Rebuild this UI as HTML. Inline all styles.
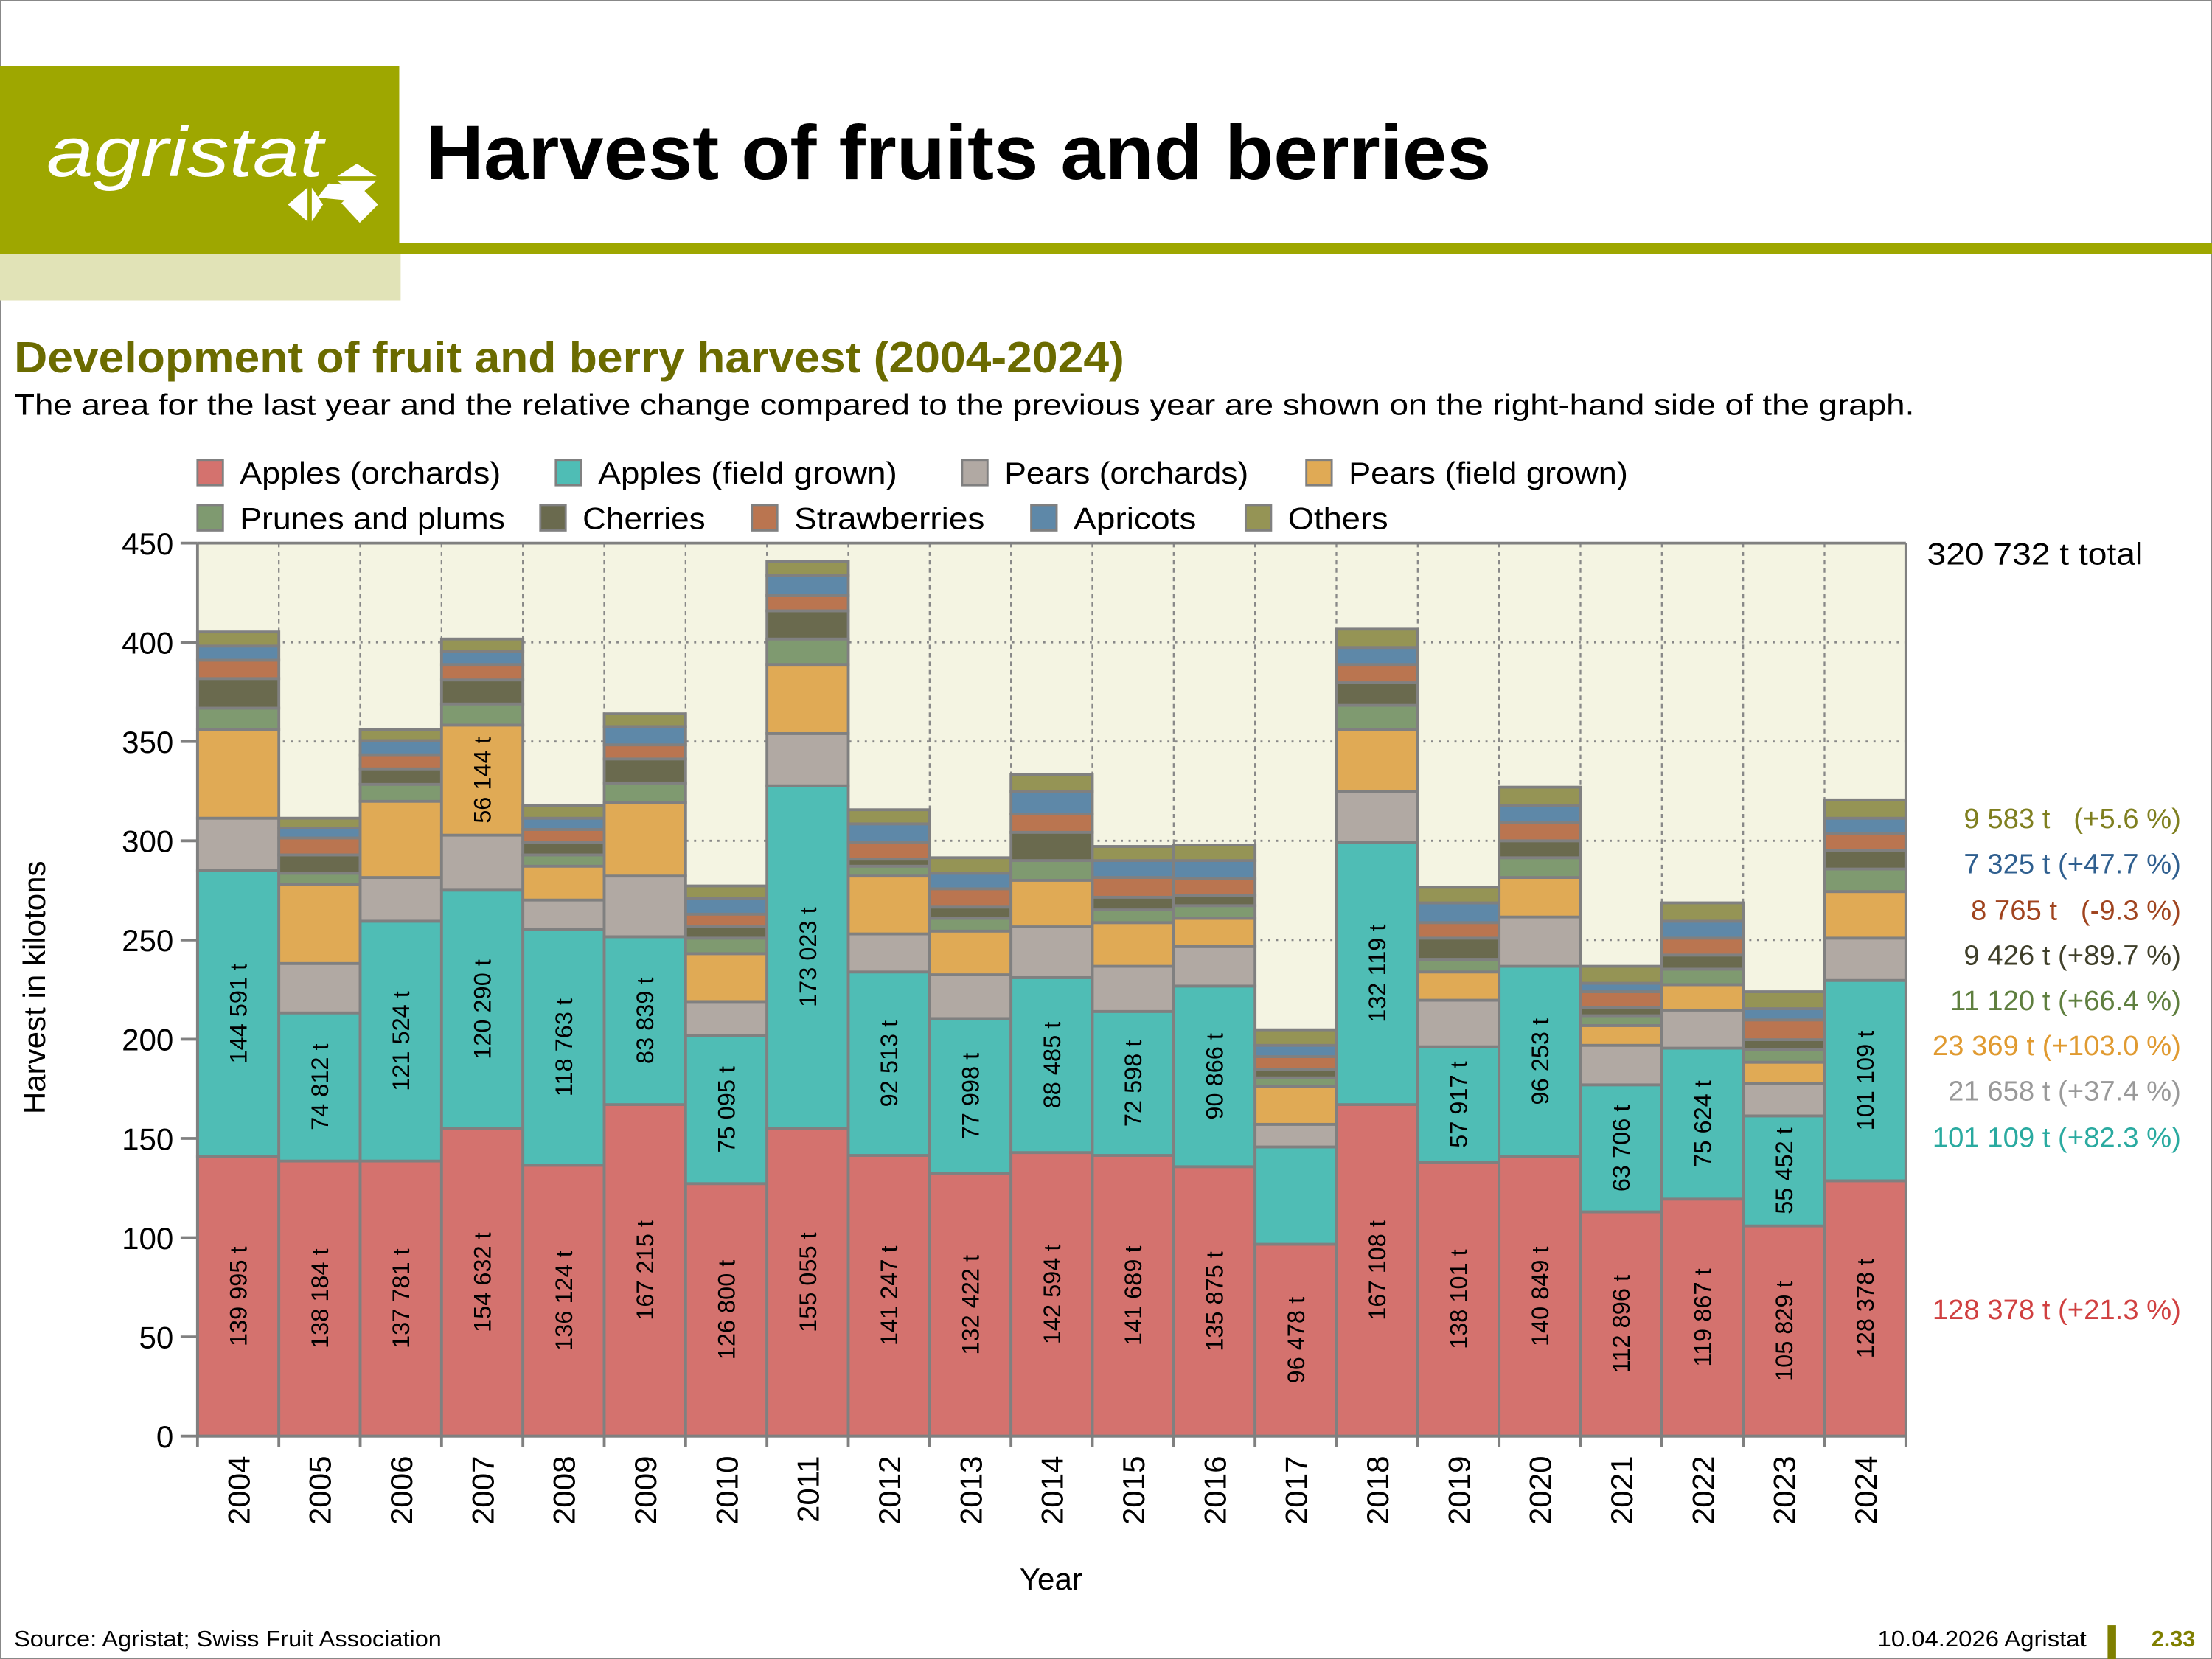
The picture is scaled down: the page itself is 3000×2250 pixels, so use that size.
<!DOCTYPE html>
<html><head><meta charset="utf-8"><style>
html,body{margin:0;padding:0;background:#fff}
svg{display:block}
text{font-family:"Liberation Sans",sans-serif}
</style></head><body>
<svg id="s" width="3000" height="2250" viewBox="0 0 1568 1176" xmlns="http://www.w3.org/2000/svg">
<rect x="0.5" y="0.5" width="1567" height="1175" fill="#fff" stroke="#888" stroke-width="1"/>
<rect x="0" y="47" width="283" height="126" fill="#9EA700"/>
<rect x="0" y="172" width="1568" height="8" fill="#9EA700"/>
<rect x="0" y="180" width="284" height="33" fill="#E1E3B7"/>
<text x="33" y="125" font-size="50" font-style="italic" fill="#fff" textLength="196" lengthAdjust="spacingAndGlyphs">agristat</text>
<g fill="#fff"><polygon points="253,116 267,125 239,125"/><polygon points="239,128 267,128 253,140"/><polygon points="204,145 218,133 218,157"/><polygon points="221,133 221,157 229,145"/><polygon points="225,140 233,130 255,132 245,142"/><polygon points="242,144 255,132 268,145 255,158"/></g>
<text x="302" y="127" font-size="55" font-weight="bold" fill="#000" textLength="755" lengthAdjust="spacingAndGlyphs">Harvest of fruits and berries</text>
<text x="10" y="264" font-size="31" font-weight="bold" fill="#6B6B00" textLength="787" lengthAdjust="spacingAndGlyphs">Development of fruit and berry harvest (2004-2024)</text>
<text x="10" y="294" font-size="21" fill="#000" textLength="1347" lengthAdjust="spacingAndGlyphs">The area for the last year and the relative change compared to the previous year are shown on the right-hand side of the graph.</text>
<g id="g"></g>
<text x="10" y="1167" font-size="16" fill="#000" textLength="303" lengthAdjust="spacingAndGlyphs">Source: Agristat; Swiss Fruit Association</text>
<text x="1479" y="1167" font-size="16" fill="#000" text-anchor="end" textLength="148" lengthAdjust="spacingAndGlyphs">10.04.2026 Agristat</text>
<rect x="1494" y="1152" width="6" height="24" fill="#7F7F00"/>
<text x="1525" y="1167" font-size="16" font-weight="bold" fill="#7F7F00">2.33</text>
</svg>
<script>
var g=document.getElementById('g'),h='';
var X0=140,X1=1351,Y0=1018,Y1=385,W=(X1-X0)/21;
var cols=['#D4726E','#4FBDB5','#B1A9A3','#E0AA55','#7F9A70','#6A6A4E','#BA7550','#5E88A8','#959455'];
var names=['Apples (orchards)','Apples (field grown)','Pears (orchards)','Pears (field grown)','Prunes and plums','Cherries','Strawberries','Apricots','Others'];
h+='<rect x="'+X0+'" y="'+Y1+'" width="'+(X1-X0)+'" height="'+(Y0-Y1)+'" fill="#F4F4E2"/>';
for(var i=1;i<9;i++){var y=Y0-i*(Y0-Y1)/9;h+='<line x1="'+X0+'" x2="'+X1+'" y1="'+y+'" y2="'+y+'" stroke="#888" stroke-width="1.5" stroke-dasharray="1.5,4"/>';}
for(var i=1;i<21;i++){var x=X0+i*W;h+='<line x1="'+x+'" x2="'+x+'" y1="'+Y1+'" y2="'+Y0+'" stroke="#888" stroke-width="1.2" stroke-dasharray="3,3"/>';}
var B=[[820,617,580,517,502,481,468,458,448],[823,718,683,627,619,606,594,587,580],[823,653,622,568,556,545,535,525,517],[800,631,592,514,499,482,471,462,453],[826,659,638,614,606,597,588,580,571],[783,664,621,569,555,538,528,515,506],[839,734,710,676,665,657,648,637,628],[800,557,520,471,453,433,422,408,398],[819,689,662,621,614,609,597,584,574],[832,722,691,660,651,643,630,619,608],[817,693,657,624,610,590,577,561,549],[819,717,685,654,645,636,622,610,600],[827,699,671,651,642,635,623,610,599],[882,813,797,770,764,758,749,741,730],[783,597,561,517,500,484,471,459,446],[824,742,709,689,680,665,654,640,629],[820,685,650,622,608,596,583,571,558],[859,769,741,727,720,714,703,697,685],[850,743,716,698,687,677,665,653,640],[869,791,768,753,744,737,723,715,703],[837,695,665,632,616,603,591,580,567]];
var L1=['139 995 t','138 184 t','137 781 t','154 632 t','136 124 t','167 215 t','126 800 t','155 055 t','141 247 t','132 422 t','142 594 t','141 689 t','135 875 t','96 478 t','167 108 t','138 101 t','140 849 t','112 896 t','119 867 t','105 829 t','128 378 t'];
var L2=['144 591 t','74 812 t','121 524 t','120 290 t','118 763 t','83 839 t','75 095 t','173 023 t','92 513 t','77 998 t','88 485 t','72 598 t','90 866 t','','132 119 t','57 917 t','96 253 t','63 706 t','75 624 t','55 452 t','101 109 t'];
for(var b=0;b<21;b++){var x=X0+b*W,cx=x+W/2,prev=Y0;
 for(var k=0;k<9;k++){var t=B[b][k];h+='<rect x="'+x+'" y="'+t+'" width="'+W+'" height="'+(prev-t)+'" fill="'+cols[k]+'" stroke="#808080" stroke-width="2"/>';prev=t;}
 var c1=(Y0+B[b][0])/2,c2=(B[b][0]+B[b][1])/2;
 h+='<text transform="translate('+(cx+6)+','+c1+') rotate(-90)" text-anchor="middle" font-size="17">'+L1[b]+'</text>';
 if(L2[b])h+='<text transform="translate('+(cx+6)+','+c2+') rotate(-90)" text-anchor="middle" font-size="17">'+L2[b]+'</text>';
 h+='<text transform="translate('+(cx+8)+',1032) rotate(-90)" text-anchor="end" font-size="22">'+(2004+b)+'</text>';
}
h+='<text transform="translate('+(X0+3*W+W/2+6)+','+(B[3][2]+B[3][3])/2+') rotate(-90)" text-anchor="middle" font-size="17">56 144 t</text>';
h+='<polyline points="'+X0+','+Y1+' '+X0+','+Y0+' '+X1+','+Y0+' '+X1+','+Y1+'" fill="none" stroke="#808080" stroke-width="2"/>';
h+='<line x1="'+X0+'" x2="'+X1+'" y1="'+Y1+'" y2="'+Y1+'" stroke="#808080" stroke-width="2"/>';
for(var i=0;i<=21;i++){var x=X0+i*W;h+='<line x1="'+x+'" x2="'+x+'" y1="'+Y0+'" y2="1026" stroke="#808080" stroke-width="2"/>';}
for(var i=0;i<=9;i++){var y=Y0-i*(Y0-Y1)/9;h+='<line x1="128" x2="'+X0+'" y1="'+y+'" y2="'+y+'" stroke="#808080" stroke-width="2"/><text x="123" y="'+(y+8)+'" text-anchor="end" font-size="22">'+(i*50)+'</text>';}
h+='<text transform="translate(32,700) rotate(-90)" text-anchor="middle" font-size="22">Harvest in kilotons</text>';
h+='<text x="745" y="1127" text-anchor="middle" font-size="22">Year</text>';
var lg=[[140,335,0,185],[394,335,1,212],[682,335,2,173],[926,335,3,198],[140,367,4,188],[383,367,5,87],[533,367,6,135],[731,367,7,87],[883,367,8,71]];
lg.forEach(function(l){h+='<rect x="'+l[0]+'" y="'+(l[1]-9)+'" width="18" height="18" fill="'+cols[l[2]]+'" stroke="#808080" stroke-width="1.5"/><text x="'+(l[0]+30)+'" y="'+(l[1]+8)+'" font-size="22" textLength="'+l[3]+'" lengthAdjust="spacingAndGlyphs">'+names[l[2]]+'</text>';});
h+='<text x="1366" y="400" font-size="22" textLength="153" lengthAdjust="spacingAndGlyphs">320 732 t total</text>';
var R=[[580,'9 583 t   (+5.6 %)','#7F7F1F'],[612,'7 325 t (+47.7 %)','#2F5F8F'],[645,'8 765 t   (-9.3 %)','#A0441F'],[677,'9 426 t (+89.7 %)','#3F3F2A'],[709,'11 120 t (+66.4 %)','#5F7F3F'],[741,'23 369 t (+103.0 %)','#E09A30'],[773,'21 658 t (+37.4 %)','#999999'],[806,'101 109 t (+82.3 %)','#2AAAA0'],[928,'128 378 t (+21.3 %)','#D04040']];
R.forEach(function(r){h+='<text x="1546" y="'+(r[0]+7)+'" text-anchor="end" font-size="20" fill="'+r[2]+'" xml:space="preserve">'+r[1]+'</text>';});
g.innerHTML=h;
</script>
</body></html>
